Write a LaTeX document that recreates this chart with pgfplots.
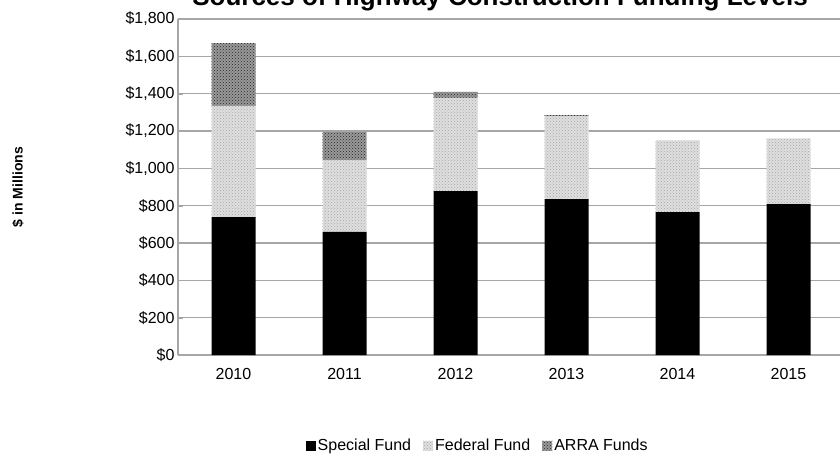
\documentclass[border=0pt]{standalone}
\usepackage{pgfplots}
\pgfplotsset{compat=1.18}
\usepackage{fontspec}
\setmainfont{Liberation Sans}
\usetikzlibrary{patterns}
\begin{document}
\begin{tikzpicture}
\path[use as bounding box] (0,0) rectangle (840pt,456pt);
\clip (0,0) rectangle (840pt,456pt);
\node[font=\bfseries\fontsize{26}{28}\selectfont,anchor=base] at (500pt,450pt) {Sources of Highway Construction Funding Levels};
\node[font=\bfseries\fontsize{14}{16}\selectfont,rotate=90] at (18pt,269pt) {\$ in Millions};
\begin{axis}[at={(178pt,101pt)},anchor=south west,scale only axis,
 width=666pt,height=336pt,
 ybar stacked,bar width=44pt,
 xmin=-0.5,xmax=5.5,ymin=0,ymax=1800,
 xtick=data,xticklabels={2010,2011,2012,2013,2014,2015},
 ytick={0,200,...,1800},
 yticklabels={\$0,\$200,\$400,\$600,\$800,\$1{,}000,\$1{,}200,\$1{,}400,\$1{,}600,\$1{,}800},
 ymajorgrids,grid style={gray!70,line width=1.2pt},
 axis x line*=bottom,axis y line*=left,
 axis line style={gray!70,line width=1.2pt},
 tick style={gray!70},major tick length=5pt,
 xtick style={draw=none},
 tick label style={font=\fontsize{16}{18}\selectfont},
 /pgf/number format/assume math mode=true,
 xticklabel style={yshift=-10pt},
 legend style={at={(0.45,-0.27)},anchor=center,draw=none,legend columns=3,
   font=\fontsize{16}{18}\selectfont,/tikz/every even column/.append style={column sep=10pt}},
 legend image code/.code={\fill[#1] (0pt,-5pt) rectangle (10pt,5pt);},
]
\addplot[fill=gray!20,draw=none,fill=black] coordinates {(0,739) (1,659) (2,878) (3,835) (4,765) (5,808)};
\addplot[fill=gray!25,draw=none,postaction={pattern=crosshatch dots,pattern color=gray!70}] coordinates {(0,595) (1,385) (2,499) (3,443) (4,385) (5,352)};
\addplot[fill=gray!80,draw=none,postaction={pattern=crosshatch dots,pattern color=gray!30!black}] coordinates {(0,337) (1,150) (2,32) (3,7) (4,0) (5,0)};
\legend{Special Fund,Federal Fund,ARRA Funds}
\end{axis}
\end{tikzpicture}
\end{document}
